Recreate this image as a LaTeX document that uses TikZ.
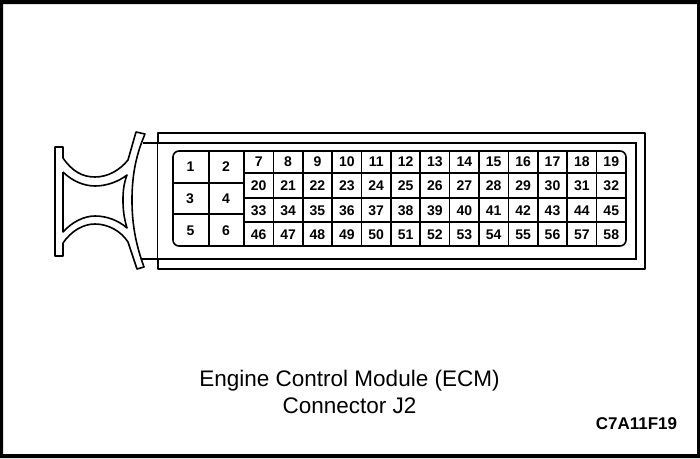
\documentclass[tikz,border=0pt]{standalone}
\usepackage{fontspec}
\setmainfont{Liberation Sans}
\tikzset{
  pin/.style={inner sep=0pt,font=\fontsize{14}{16}\selectfont\bfseries},
  caption/.style={inner sep=0pt,anchor=base,font=\fontsize{22.5}{24}\selectfont},
  part/.style={line width=1.6pt,line join=round},
}
\begin{document}
\begin{tikzpicture}[x=1pt,y=-1pt]
  \useasboundingbox (0,0) rectangle (700,458);
  \fill[even odd rule] (0,0) rectangle (700,458) (3,4) rectangle (697,454);
  % connector body
  \draw[part] (158,143) -- (158,133) -- (645,133) -- (645,269) -- (158,269) -- (158,259);
  \draw[line width=2pt] (143,143) -- (636,143) -- (636,259) -- (142,259);
  \draw[part] (157.5,143) -- (157.5,259);
  % cavity grid
  \draw[part,rounded corners=6pt] (173,151) rectangle (626,246);
  \draw[part] (173,183) -- (244,183);
  \draw[part] (173,214) -- (244,214);
  \draw[part] (209,151) -- (209,246);
  \foreach \y in {173,198,222}
    \draw[part] (244,\y) -- (626,\y);
  \foreach \c in {0,...,12}
    \draw[part] ({244+\c*29.38},151) -- ({244+\c*29.38},246);
  % latch
  \draw[part] (63,158) -- (63,147) -- (55,147) -- (55,256) -- (63,256) -- (63,243)
    .. controls (72,230) and (84,224) .. (95,224)
    .. controls (108,224) and (121,231) .. (128,242)
    -- (137,269) -- (144,267)
    .. controls (136,245) and (132,225) .. (132,200)
    .. controls (132,175) and (136,155) .. (145,134)
    -- (136,132)
    -- (128,160)
    .. controls (120,170) and (108,177) .. (95,177)
    .. controls (82,177) and (72,171) .. (63,158);
  \draw[part] (63,172) -- (63,232)
    .. controls (72,222) and (84,216) .. (95,216)
    .. controls (106,216) and (118,220) .. (127,228)
    .. controls (124,218) and (123,210) .. (123,200)
    .. controls (123,190) and (124,183) .. (127,175)
    .. controls (118,182) and (106,186) .. (95,186)
    .. controls (84,186) and (72,181) .. (63,172);
  % pin numbers
  \node[pin] (p1) at (190.5,167) {1};
  \node[pin] (p2) at (226,167) {2};
  \node[pin] (p3) at (190,199) {3};
  \node[pin] (p4) at (226,199) {4};
  \node[pin] (p5) at (190.5,231) {5};
  \node[pin] (p6) at (226,231) {6};
  \foreach \y/\first in {161.5/7,186/20,210.5/33,234.5/46}
    \foreach \c in {0,...,12} {
      \pgfmathtruncatemacro{\num}{\first+\c}
      \node[pin] (p\num) at ({258.7+\c*29.38},\y) {\num};
    }
  % captions
  \node[caption] (title) at (349.5,386) {Engine Control Module (ECM)};
  \node[caption] (sub) at (349.5,413) {Connector J2};
  \node[inner sep=0pt,anchor=base,font=\fontsize{17}{19}\selectfont\bfseries] (code) at (636.5,429.5) {C7A11F19};
\end{tikzpicture}
\end{document}
